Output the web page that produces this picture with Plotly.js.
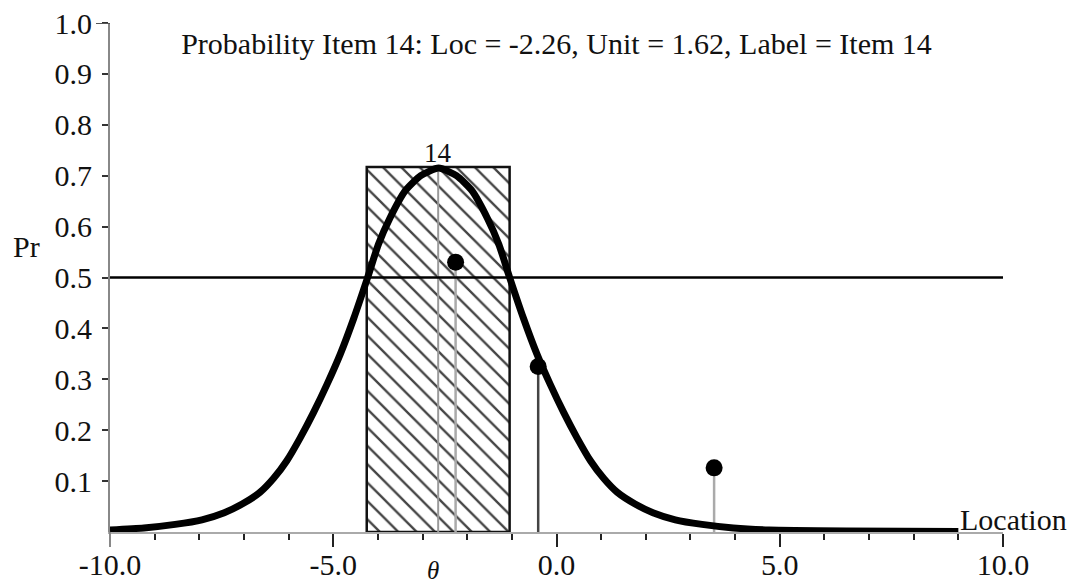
<!DOCTYPE html>
<html>
<head>
<meta charset="utf-8">
<script src="https://cdn.plot.ly/plotly-3.0.1.min.js"></script>
<style>html,body{margin:0;padding:0;background:#fff;}#chart{width:1072px;height:585px;}</style>
</head>
<body>
<div id="chart"></div>
<script>
// Probability curve of item 14
const curveX = [-10, -9.24, -8.54, -7.94, -7.44, -7.04, -6.64, -6.34, -6.04, -5.74, -5.44, -5.14, -4.84, -4.54, -4.23, -3.99, -3.74, -3.39, -3.04, -2.64, -2.24, -1.89, -1.54, -1.29, -1.05, -0.74, -0.44, -0.14, 0.16, 0.46, 0.76, 1.06, 1.36, 1.76, 2.16, 2.66, 3.26, 3.96, 4.76, 6.5, 9.0];
const curveY = [0.004, 0.008, 0.015, 0.024, 0.038, 0.055, 0.078, 0.105, 0.14, 0.185, 0.235, 0.29, 0.35, 0.42, 0.5, 0.565, 0.615, 0.67, 0.70, 0.715, 0.70, 0.67, 0.615, 0.565, 0.5, 0.42, 0.35, 0.29, 0.235, 0.185, 0.14, 0.105, 0.078, 0.055, 0.038, 0.024, 0.015, 0.008, 0.004, 0.002, 0.001];
// Hatched band (region where curve exceeds 0.5)
const bandEdges = [-4.25, -1.05];
const bandTop = 0.717;
const bandLabel = "14";
// Observed points
const pointX = [-2.26, -0.41, 3.53];
const pointY = [0.53, 0.325, 0.126];
const stemColors = ["#aaaaaa", "#444444", "#aaaaaa"];
// Reference level
const refLevel = 0.5;
const peakX = -2.65;
// Axis ticks
const xTickVals = [-10, -5, 0, 5, 10];
const xTickText = ["-10.0", "-5.0", "0.0", "5.0", "10.0"];
const yTickVals = [0.1, 0.2, 0.3, 0.4, 0.5, 0.6, 0.7, 0.8, 0.9, 1.0];
const yTickText = ["0.1", "0.2", "0.3", "0.4", "0.5", "0.6", "0.7", "0.8", "0.9", "1.0"];
const titleText = "Probability Item 14: Loc = -2.26, Unit = 1.62, Label = Item 14";

const FONT = "Liberation Serif, Times New Roman, serif";
const FS = 30;
const traces = [];

traces.push({
  type: "bar",
  x: [(bandEdges[0] + bandEdges[1]) / 2],
  y: [bandTop],
  width: [bandEdges[1] - bandEdges[0]],
  marker: {
    color: "white",
    line: {color: "#111", width: 2.5},
    pattern: {shape: "\\", size: 13, solidity: 0.18, fgcolor: "#444", bgcolor: "white"}
  },
  hoverinfo: "skip", showlegend: false
});

// grey centre line of band
traces.push({
  type: "scatter", mode: "lines",
  x: [peakX, peakX], y: [0, bandTop],
  line: {color: "#999", width: 2}, hoverinfo: "skip", showlegend: false
});

// stems
pointX.forEach((px, i) => {
  traces.push({
    type: "scatter", mode: "lines",
    x: [px, px], y: [0, pointY[i]],
    line: {color: stemColors[i], width: 2.5}, hoverinfo: "skip", showlegend: false
  });
});

// reference line
traces.push({
  type: "scatter", mode: "lines",
  x: [xTickVals[0], xTickVals[xTickVals.length - 1]], y: [refLevel, refLevel],
  line: {color: "#000", width: 2.5}, hoverinfo: "skip", showlegend: false
});

// curve
traces.push({
  type: "scatter", mode: "lines",
  x: curveX, y: curveY,
  line: {color: "#000", width: 7, shape: "spline", smoothing: 0.6},
  hoverinfo: "skip", showlegend: false, cliponaxis: false
});

// points
traces.push({
  type: "scatter", mode: "markers",
  x: pointX, y: pointY,
  marker: {color: "#000", size: 17},
  hoverinfo: "skip", showlegend: false
});

const layout = {
  width: 1072, height: 585,
  margin: {l: 110, r: 69, t: 23, b: 53},
  paper_bgcolor: "white", plot_bgcolor: "white",
  showlegend: false,
  bargap: 0,
  title: {
    text: titleText,
    font: {family: FONT, size: FS, color: "#111"},
    x: 0.5, xref: "paper", xanchor: "center",
    y: 1 - 43 / 585, yref: "container", yanchor: "middle"
  },
  xaxis: {
    range: [-10, 10],
    showgrid: false, zeroline: false,
    showline: true, linecolor: "#aaa", linewidth: 2,
    ticks: "outside", ticklen: 13, tickwidth: 2, tickcolor: "#222",
    tickvals: xTickVals, ticktext: xTickText,
    ticklabelstandoff: -8,
    tickfont: {family: FONT, size: FS, color: "#111"},
    minor: {dtick: 1, tick0: 0, ticks: "outside", ticklen: 6, tickwidth: 2, tickcolor: "#222", showgrid: false}
  },
  yaxis: {
    range: [0, 1],
    showgrid: false, zeroline: false,
    showline: true, linecolor: "#888", linewidth: 2,
    ticks: "outside", ticklen: 6, tickwidth: 2, tickcolor: "#333",
    tickvals: yTickVals, ticktext: yTickText,
    ticklabelstandoff: 4,
    tickfont: {family: FONT, size: FS, color: "#111"}
  },
  shapes: [
    {type: "line", xref: "paper", yref: "y", x0: -14 / 893, x1: 0, y0: 1, y1: 1, line: {color: "#555", width: 2}},
    {type: "line", xref: "paper", yref: "paper", x0: 0, x1: 0, y0: 0, y1: -15 / 509, line: {color: "#888", width: 2}}
  ],
  annotations: [
    {text: "Pr", xref: "paper", yref: "paper", x: (26 - 110) / 893, y: (532 - 247) / 509,
     xanchor: "center", yanchor: "middle", showarrow: false, font: {family: FONT, size: FS, color: "#111"}},
    {text: "Location", xref: "paper", yref: "paper", x: (1069 - 110) / 893, y: (532 - 519) / 509,
     xanchor: "right", yanchor: "middle", showarrow: false, font: {family: FONT, size: FS, color: "#111"}},
    {text: "<i>θ</i>", xref: "x", yref: "paper", x: -2.77, y: (532 - 570) / 509,
     xanchor: "center", yanchor: "middle", showarrow: false, font: {family: FONT, size: 25, color: "#111"}},
    {text: bandLabel, xref: "x", yref: "y", x: peakX, y: bandTop,
     xanchor: "center", yanchor: "bottom", yshift: -3, showarrow: false, font: {family: FONT, size: 27, color: "#111"}}
  ]
};

Plotly.newPlot("chart", traces, layout, {displayModeBar: false, staticPlot: true});
</script>
</body>
</html>
